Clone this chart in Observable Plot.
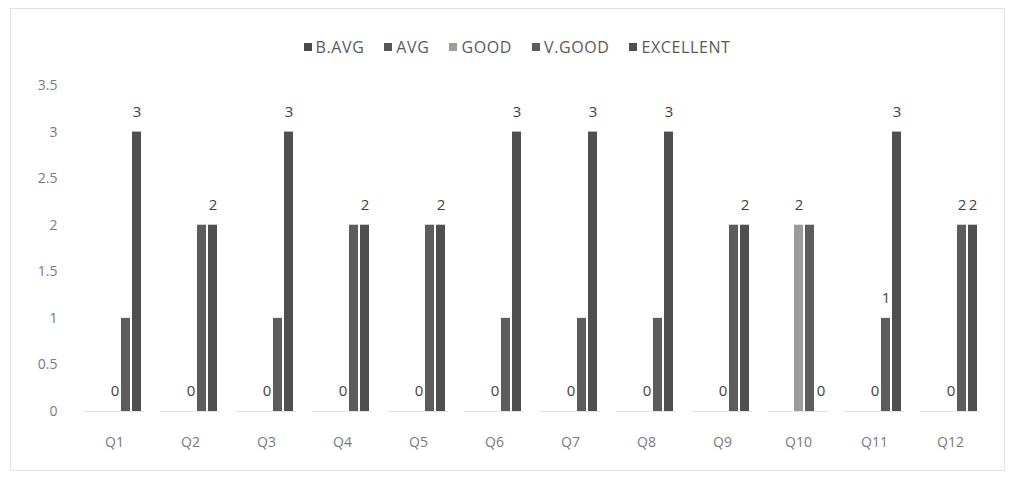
<!DOCTYPE html>
<html>
<head>
<meta charset="utf-8">
<script src="https://cdn.jsdelivr.net/npm/d3@7"></script>
<script src="https://cdn.jsdelivr.net/npm/@observablehq/plot@0.6"></script>
<style>
  body { margin: 0; background: #fff; font-family: "Open Sans", sans-serif; }
  #frame { position: absolute; left: 10px; top: 8px; width: 995px; height: 463px; border: 1px solid #e2e2e2; box-sizing: border-box; }
  #legend { position: absolute; top: 36px; left: 0; width: 1034px; display: flex; justify-content: center; gap: 20px; font-size: 16px; letter-spacing: 0.6px; color: #5a5a5a; }
  #legend span.item { display: inline-flex; align-items: center; gap: 4px; }
  #legend span.sw { display: inline-block; width: 8px; height: 8px; }
  #chart { position: absolute; top: 62px; left: 0; }
</style>
</head>
<body>
<div id="frame"></div>
<div id="legend"></div>
<div id="chart"></div>
<script>
const questions = ["Q1","Q2","Q3","Q4","Q5","Q6","Q7","Q8","Q9","Q10","Q11","Q12"];
const series = ["B.AVG","AVG","GOOD","V.GOOD","EXCELLENT"];
const bAvg      = [null,null,null,null,null,null,null,null,null,null,null,null];
const avg       = [null,null,null,null,null,null,null,null,null,null,null,null];
const good      = [0,0,0,0,0,0,0,0,0,2,0,0];
const vGood     = [1,2,1,2,2,1,1,1,2,2,1,2];
const excellent = [3,2,3,2,2,3,3,3,2,0,3,2];
const colors = ["#4a4a4a","#575757","#9c9c9c","#5c5c5c","#4f4f4f"];
const yTicks = [0,0.5,1,1.5,2,2.5,3,3.5];
// which series show data labels (V.GOOD only on some questions)
const labelledSeries = ["GOOD","EXCELLENT"];
const labelledVGood = ["Q11","Q12"];

const valuesBySeries = [bAvg, avg, good, vGood, excellent];
const rows = [];
series.forEach((s, si) => {
  questions.forEach((q, qi) => {
    const v = valuesBySeries[si][qi];
    if (v !== null) rows.push({q, s, v});
  });
});
const labelRows = rows.filter(d => labelledSeries.includes(d.s) || (d.s === "V.GOOD" && labelledVGood.includes(d.q)));

// legend
const legend = document.getElementById("legend");
series.forEach((s, i) => {
  const it = document.createElement("span");
  it.className = "item";
  it.innerHTML = `<span class="sw" style="background:${colors[i]}"></span>${s}`;
  legend.appendChild(it);
});

const chart = Plot.plot({
  width: 1014,
  height: 408,
  marginTop: 23,
  marginBottom: 59,
  marginLeft: 68,
  marginRight: 18,
  style: { fontFamily: "Open Sans, sans-serif", background: "transparent" },
  fx: { domain: questions, range: [68, 996], paddingInner: 0.21, paddingOuter: 0.21, axis: null, label: null },
  x: { domain: series, padding: 0.2, axis: null },
  y: { domain: [0, 3.5], axis: null },
  color: { domain: series, range: colors },
  marks: [
    Plot.axisY({ ticks: yTicks, tickFormat: d => String(d), tickSize: 0, tickPadding: 27, fontSize: 14, color: "#7a7a7a", label: null }),
    Plot.axisFx({ anchor: "bottom", tickSize: 0, tickPadding: 26, fontSize: 14, color: "#7a7a7a", label: null }),
    Plot.ruleY([0], { stroke: "#e3e3e3" }),
    Plot.barY(rows, { fx: "q", x: "s", y: "v", fill: "s" }),
    Plot.text(labelRows, { fx: "q", x: "s", y: "v", text: d => String(d.v), dy: -20, fontSize: 15, fill: "#3f3f3f" })
  ]
});
document.getElementById("chart").appendChild(chart);
</script>
</body>
</html>
